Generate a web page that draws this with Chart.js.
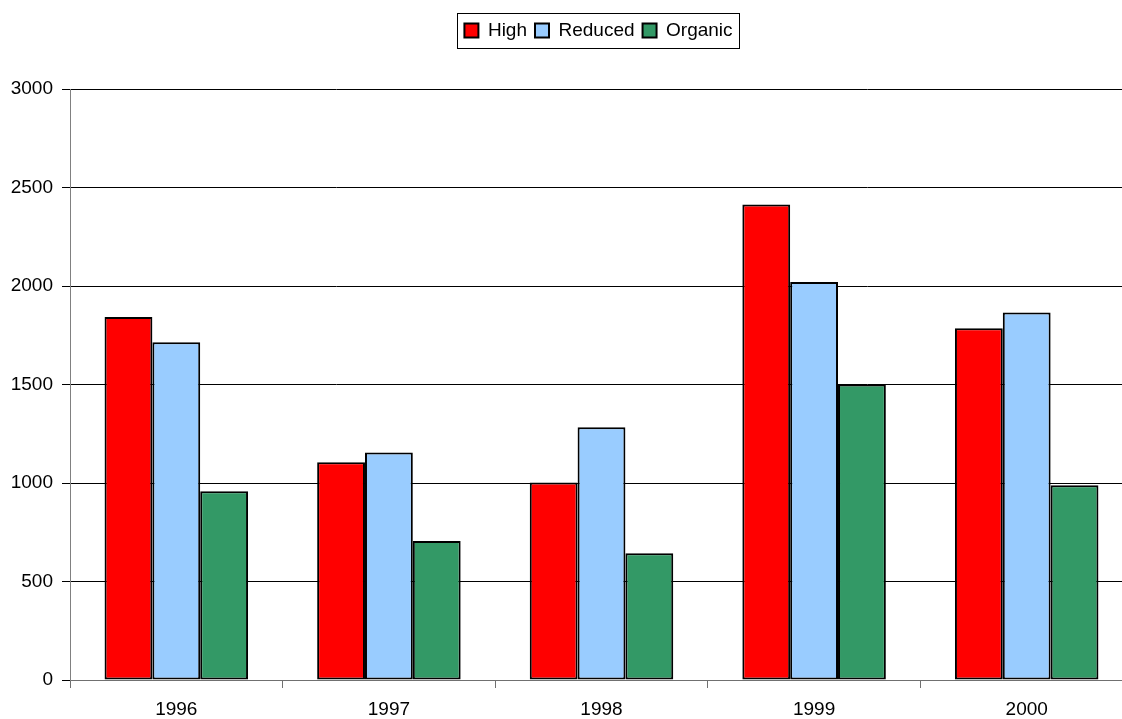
<!DOCTYPE html>
<html lang="en">
<head>
<meta charset="UTF-8">
<title>High / Reduced / Organic</title>
<script src="https://cdn.jsdelivr.net/npm/chart.js"></script>
<style>
    html, body { margin: 0; padding: 0; background: #fff; overflow: hidden; }
    /* plot runs a little past the right edge of the window, as in the original */
    .wrap { width: 1135px; height: 719px; position: relative; }
</style>
</head>
<body>
<div class="wrap"><canvas id="bars"></canvas></div>
<script>
const years = ['1996', '1997', '1998', '1999', '2000'];
const high = [1843, 1105, 1003, 2414, 1785];
const reduced = [1715, 1155, 1283, 2020, 1866];
const organic = [958, 705, 643, 1500, 988];
const yTicks = [0, 500, 1000, 1500, 2000, 2500, 3000];

const FONT = 'Liberation Sans, Arial, sans-serif';

// legend sits over the plot area (not the whole canvas) and gets a frame
const legendFrame = {
    id: 'legendFrame',
    beforeInit(chart) {
        const L = chart.legend;
        const fit = L.fit;
        L.fit = function () { fit.call(this); this.height += 39; };
    },
    afterLayout(chart) {
        const L = chart.legend;
        L.left += 32; L.right += 32;
    },
    afterDraw(chart) {
        const hb = chart.legend && chart.legend.legendHitBoxes;
        if (!hb || !hb.length) return;
        let x0 = Infinity, x1 = -Infinity, y0 = Infinity, y1 = -Infinity;
        hb.forEach(b => {
            x0 = Math.min(x0, b.left); x1 = Math.max(x1, b.left + b.width);
            y0 = Math.min(y0, b.top); y1 = Math.max(y1, b.top + b.height);
        });
        const ctx = chart.ctx;
        ctx.save();
        ctx.strokeStyle = '#000';
        ctx.lineWidth = 1;
        ctx.strokeRect(Math.round(x0 - 7) + 0.5, Math.round(y0 - 8) + 0.5, Math.round(x1 - x0 + 14), Math.round(y1 - y0 + 16));
        ctx.restore();
    }
};

new Chart(document.getElementById('bars'), {
    type: 'bar',
    data: {
        labels: years,
        datasets: [
            { label: 'High', data: high, backgroundColor: '#ff0000' },
            { label: 'Reduced', data: reduced, backgroundColor: '#99ccff' },
            { label: 'Organic', data: organic, backgroundColor: '#339966' }
        ].map(d => Object.assign(d, {
            borderColor: '#000', borderWidth: 2, borderSkipped: false,
            categoryPercentage: 0.675, barPercentage: 1
        }))
    },
    plugins: [legendFrame],
    options: {
        responsive: true,
        maintainAspectRatio: false,
        animation: false,
        layout: { padding: { left: 0, right: 2, top: 13, bottom: 0 } },
        plugins: {
            tooltip: { enabled: false },
            legend: {
                position: 'top',
                labels: {
                    color: '#000',
                    font: { family: FONT, size: 19 },
                    boxWidth: 14, boxHeight: 14,
                    padding: 8
                }
            }
        },
        scales: {
            x: {
                grid: { display: true, drawOnChartArea: false, drawTicks: true, tickLength: 8, color: '#707070', offset: true },
                border: { color: '#707070', width: 1 },
                ticks: { color: '#000', font: { family: FONT, size: 19 }, padding: 10, maxRotation: 0 },
                afterFit(s) { s.height = 39; }
            },
            y: {
                min: 0, max: 3000,
                afterBuildTicks(s) { s.ticks = yTicks.map(v => ({ value: v })); },
                grid: { color: '#000', lineWidth: 1, tickLength: 8 },
                border: { color: '#808080', width: 1 },
                ticks: { color: '#000', font: { family: FONT, size: 19 }, padding: 9, callback: v => String(v) },
                afterFit(s) { s.width = 70; }
            }
        }
    }
});
</script>
</body>
</html>
